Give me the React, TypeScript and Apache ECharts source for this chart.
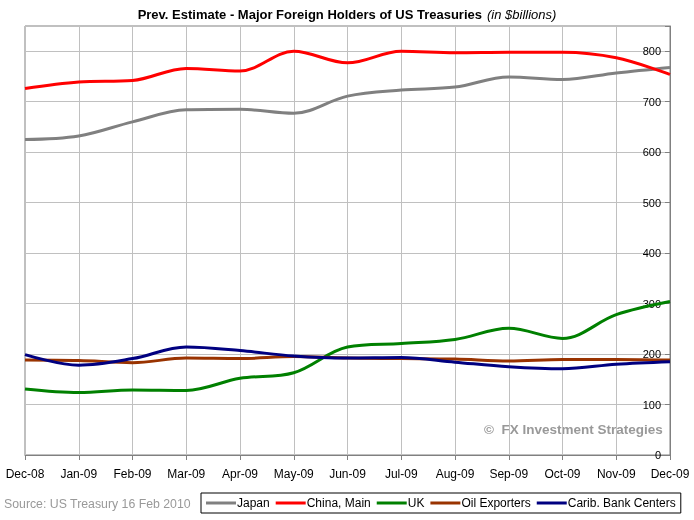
import React, { useEffect, useRef } from "react";
import * as echarts from "echarts";

const months = ["Dec-08", "Jan-09", "Feb-09", "Mar-09", "Apr-09", "May-09", "Jun-09", "Jul-09", "Aug-09", "Sep-09", "Oct-09", "Nov-09", "Dec-09"];
const japan = [625, 632, 660, 684, 685, 677, 711, 723, 729, 749, 744, 757, 768];
const china = [726, 739, 742, 766, 761, 800, 777, 800, 797, 798, 798, 787, 754];
const uk = [131, 124, 129, 128, 152, 163, 214, 221, 229, 251, 231, 278, 304];
const oil = [188, 187, 183, 192, 191, 195, 192, 191, 190, 186, 189, 189, 188];
const carib = [199, 178, 191, 214, 207, 196, 192, 193, 184, 175, 171, 180, 185];

const seriesNames = ["Japan", "China, Main", "UK", "Oil Exporters", "Carib. Bank Centers"];
const seriesColors = ["#808080", "#ff0000", "#008000", "#993300", "#000080"];
const seriesData = [japan, china, uk, oil, carib];

const FONT = "Liberation Sans";

export default function App() {
  const ref = useRef<HTMLDivElement>(null);
  useEffect(() => {
    const chart = echarts.init(ref.current!, null, { renderer: "svg" });
    chart.setOption({
      animation: false,
      textStyle: { fontFamily: FONT },
      title: {
        text: "{b|Prev. Estimate - Major Foreign Holders of US Treasuries} {i|(in $billions)}",
        left: "center",
        top: 0,
        textStyle: {
          rich: {
            b: { fontFamily: FONT, fontWeight: "bold", fontSize: 13, color: "#000" },
            i: { fontFamily: FONT, fontStyle: "italic", fontWeight: "normal", fontSize: 13, color: "#000" },
          },
        },
      },
      graphic: [
        {
          type: "text",
          left: 4,
          top: 498,
          style: { text: "Source: US Treasury 16 Feb 2010", fill: "#999999", font: `12.3px "${FONT}"` },
        },
        {
          type: "text",
          left: 484,
          top: 422,
          style: { text: "©  FX Investment Strategies", fill: "#999999", font: `bold 13.5px "${FONT}"` },
        },
      ],
      legend: {
        left: 201,
        top: 493,
        orient: "horizontal",
        borderColor: "#000",
        borderWidth: 1,
        padding: [4, 5, 4, 5],
        itemGap: 6,
        itemWidth: 30,
        itemHeight: 3,
        icon: "rect",
        textStyle: { fontFamily: FONT, fontSize: 12, color: "#000", padding: [0, 0, 0, -4] },
        data: seriesNames,
      },
      grid: {
        left: 25,
        right: 24,
        top: 26,
        bottom: 65,
        show: true,
        borderColor: "#808080",
        borderWidth: 1,
      },
      xAxis: {
        type: "category",
        data: months,
        boundaryGap: false,
        axisLine: { lineStyle: { color: "#808080" } },
        axisTick: { show: true, length: 5, lineStyle: { color: "#808080" }, alignWithLabel: true },
        axisLabel: { color: "#000", fontSize: 12, fontFamily: FONT, margin: 13, interval: 0 },
        splitLine: { show: true, lineStyle: { color: "#c0c0c0", width: 1 } },
      },
      yAxis: {
        type: "value",
        position: "right",
        min: 0,
        max: 850,
        interval: 100,
        axisLine: { show: true, lineStyle: { color: "#808080" } },
        axisTick: { show: true, inside: true, length: 5, lineStyle: { color: "#808080" } },
        axisLabel: {
          inside: true,
          color: "#000",
          fontSize: 11,
          fontFamily: FONT,
          margin: 9,
          formatter: (v: number) => (v === 850 ? "" : String(v)),
        },
        splitLine: { show: true, lineStyle: { color: "#c0c0c0", width: 1 } },
      },
      series: seriesNames.map((name, i) => ({
        name,
        type: "line",
        data: seriesData[i],
        smooth: 0.35,
        showSymbol: false,
        symbol: "none",
        lineStyle: { color: seriesColors[i], width: 3 },
        itemStyle: { color: seriesColors[i] },
        z: 2 + i,
      })),
    });
    return () => chart.dispose();
  }, []);
  return <div ref={ref} style={{ position: "fixed", left: 0, top: 0, width: 694, height: 520 }} />;
}
